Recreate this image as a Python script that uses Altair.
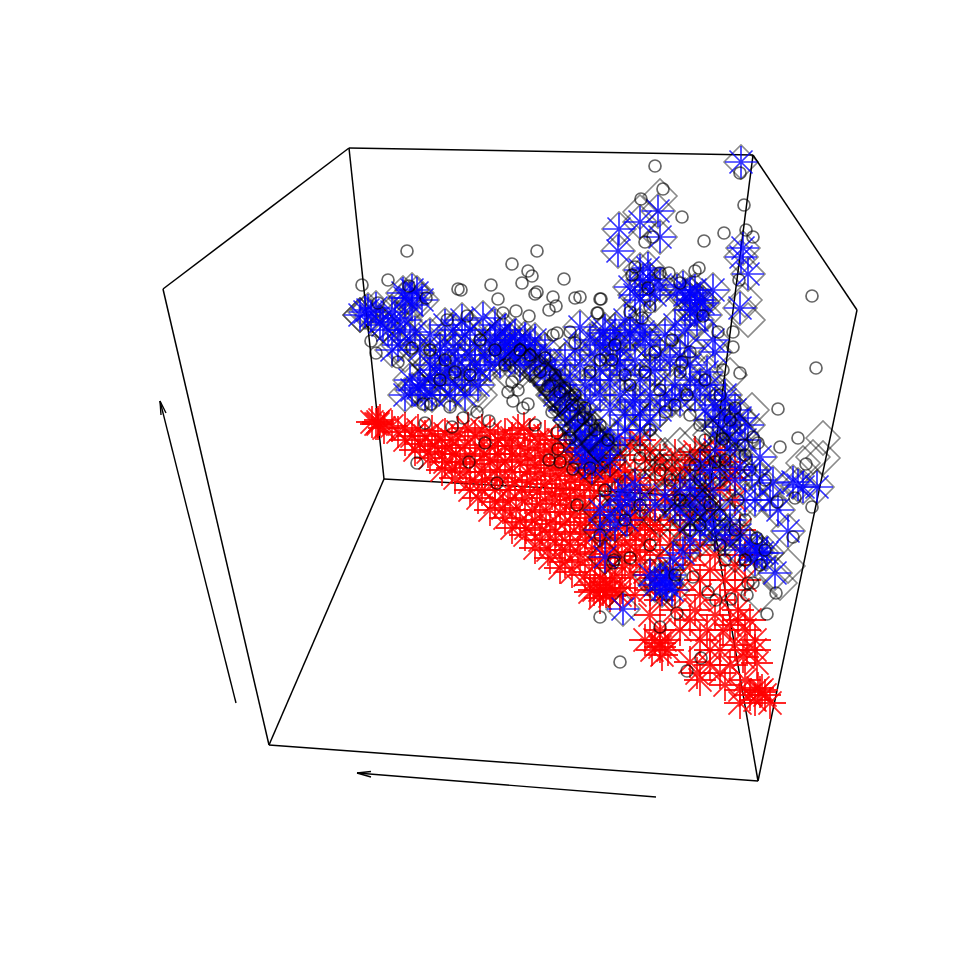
import altair as alt
import pandas as pd

# Box edges and arrows (x1, y1, x2, y2)
box_edges = [
    (163, 289, 349, 148), (349, 148, 753, 155), (753, 155, 857, 310),
    (857, 310, 758, 781), (758, 781, 269, 745), (269, 745, 163, 289),
    (349, 148, 384, 479), (384, 479, 269, 745), (384, 479, 709, 497),
    (709, 497, 753, 155), (709, 497, 758, 781),
]
arrow_edges = [
    (236, 703, 160, 401), (160, 401, 161, 415), (160, 401, 166, 413),
    (656, 797, 357, 773), (357, 773, 371, 771.5), (357, 773, 371, 777),
]

circles = [
    (407,251),(537,251),(512,264),(528,271),(532,276),(522,283),(388,280),(362,285),(458,289),(461,290),
    (491,285),(564,279),(537,292),(535,294),(553,297),(575,298),(498,299),(556,306),(549,310),(600,299),
    (597,313),(467,316),(503,313),(516,311),(529,316),(447,320),(426,298),(409,286),(378,303),(371,341),
    (376,353),(398,362),(412,348),(512,382),(508,392),(518,390),(513,401),(528,404),(523,408),(423,404),
    (431,404),(450,407),(477,412),(463,418),(489,421),(425,423),(452,427),(535,425),(557,333),(570,332),
    (553,335),(575,343),(485,443),(469,462),(417,463),(497,483),(557,433),(558,449),(549,460),(560,462),
    (573,469),(590,468),(577,505),(605,490),(600,617),(614,560),(655,166),(740,173),(663,189),(641,199),
    (744,205),(682,217),(724,233),(704,241),(746,230),(753,237),(645,242),(653,237),(699,268),(695,271),
    (635,267),(669,273),(739,280),(812,296),(601,299),(598,313),(733,332),(733,347),(703,316),(650,307),
    (630,312),(642,318),(718,332),(680,283),(660,273),(648,288),(632,275),(580,297),(816,368),(778,409),
    (798,438),(780,447),(758,443),(753,437),(743,445),(806,464),(723,439),(812,507),(793,537),(777,502),
    (745,520),(757,538),(680,372),(687,395),(725,460),(740,373),(723,370),(682,362),(640,458),(613,563),
    (630,558),(795,498),(620,662),(767,614),(776,593),(748,583),(753,583),(747,595),(731,599),(716,600),
    (708,592),(693,577),(677,613),(660,627),(701,658),(687,671),(540,372),(548,386),(560,392),(572,405),
    (583,418),(595,430),(608,440),(552,412),(570,438),(625,375),(612,360),(590,372),(655,352),(672,340),
    (690,352),(705,380),(665,412),(650,430),(700,425),(735,408),(720,395),(715,462),(700,480),(680,500),
    (660,470),(720,515),(738,500),(750,470),(765,480),(690,530),(650,545),(675,575),(725,560),(760,565),
    (530,355),(520,350),(545,358),(555,375),(565,388),(575,395),(585,408),(590,420),(600,425),(505,365),
    (495,350),(480,340),(470,375),(455,372),(440,380),(430,350),(445,360),(600,360),(615,345),(630,385),
    (645,372),(660,390),(675,405),(690,415),(705,440),(730,420),(745,455),(710,505),(695,465),(670,480),
    (700,525),(735,530),(720,545),(745,560),(765,550),(640,505),(625,520),(600,535),
]

blue_stars = [
    (365,312),(371,316),(380,322),(392,312),(403,293),(410,298),(417,293),(412,305),(400,330),(383,325),
    (398,345),(410,340),(420,350),(410,380),(425,395),(430,365),(440,350),(453,330),(445,345),(465,335),
    (458,360),(470,355),(445,375),(430,378),(455,385),(470,380),(480,370),(465,395),(448,368),(483,318),
    (490,340),(500,335),(505,345),(510,340),(515,335),(520,345),(525,350),(495,350),(485,355),(530,345),
    (535,355),(540,362),(515,358),(505,355),(475,345),(545,375),(550,385),(555,395),(560,400),(565,410),
    (570,420),(575,425),(580,435),(585,445),(590,450),(600,455),(610,445),(595,460),(585,462),(580,327),
    (565,360),(580,365),(595,355),(610,345),(605,330),(620,350),(630,335),(640,325),(635,360),(650,345),
    (655,370),(660,355),(625,375),(610,380),(600,395),(620,395),(635,400),(650,395),(640,415),(625,415),
    (610,410),(590,400),(660,410),(680,400),(619,229),(618,251),(640,222),(658,211),(660,237),(741,162),
    (743,248),(741,257),(748,274),(740,308),(713,290),(648,268),(643,280),(630,287),(650,290),(677,290),
    (690,293),(697,300),(703,303),(690,310),(697,320),(683,287),(713,340),(688,348),(715,352),(630,333),
    (603,333),(613,343),(590,340),(643,332),(707,372),(672,400),(723,417),(730,420),(740,418),(713,420),
    (720,427),(727,433),(633,402),(617,360),(680,357),(760,457),(740,467),(773,483),(798,485),(803,487),
    (817,487),(793,482),(788,531),(757,548),(762,553),(673,558),(675,507),(712,525),(703,507),(713,490),
    (618,495),(627,520),(605,557),(603,445),(597,440),(623,609),(666,585),(667,583),(683,553),(757,552),
    (775,573),(767,553),(720,510),(730,520),(700,495),(690,490),(725,540),(740,535),(715,450),(730,450),
    (700,465),(735,480),(745,500),(690,520),(640,500),(600,510),(625,490),(650,575),(660,580),
    (360,315),(368,310),(376,308),(388,330),(395,318),(405,298),(412,290),(422,300),(405,320),(415,332),
    (392,350),(430,335),(445,325),(462,320),(470,330),(435,370),(440,385),(450,395),(462,372),(475,365),
    (490,365),(478,385),(420,385),(412,390),(432,395),(440,358),(455,350),(495,325),(505,330),(515,345),
    (525,338),(535,340),(545,350),(520,365),(530,365),(500,362),(510,350),(495,340),(550,365),(555,375),
    (560,385),(565,395),(570,405),(578,412),(585,420),(592,432),(600,440),(575,440),(582,452),(592,468),
    (610,460),(618,438),(625,430),(640,430),(650,420),(665,395),(675,385),(690,380),(695,395),(700,385),
    (640,380),(650,370),(620,365),(600,370),(585,385),(570,380),(595,380),(575,350),(600,345),(615,330),
    (625,320),(645,340),(665,335),(675,325),(685,330),(670,360),(690,365),(710,385),(725,395),(735,410),
    (748,425),(725,400),(715,405),(705,410),(735,440),(745,440),(752,470),(760,480),(770,500),(778,510),
    (755,500),(700,300),(695,290),(690,300),(685,295),(695,310),(705,315),(640,300),(650,280),(640,270),
    (655,295),(660,285),(635,295),(720,470),(710,470),(695,480),(680,490),(665,495),(655,505),(680,510),
    (695,505),(705,520),(715,535),(730,530),(740,550),(750,545),(755,560),(700,530),(690,540),(620,505),
    (610,515),(630,500),(635,485),(615,525),(600,530),(670,575),(655,585),(662,590),(672,590),(665,578),
    (405,395),(418,388),
]

extra_diamonds = [
    (823,438),(813,457),(803,463),(823,458),(788,566),(780,583),(760,595),(660,196),(640,212),(745,300),
    (748,320),(540,370),(550,382),(558,392),(566,402),(574,412),(582,424),(590,436),(600,445),(610,452),
    (520,372),(470,398),(450,385),(415,350),(360,315),(405,355),(425,360),(435,390),(480,395),(730,375),
    (752,410),(665,470),(680,465),(695,475),(650,460),(710,480),(660,520),(680,515),(700,540),(735,555),
]

dark_diamonds = [
    (520,360),(530,365),(540,372),(548,382),(555,390),(562,398),(568,408),(575,415),(582,425),(590,435),
    (598,445),(605,452),(545,378),(553,395),(570,420),(578,430),(510,375),(650,445),(665,455),(680,445),
    (695,440),(710,435),(725,425),(738,430),(720,450),(735,460),(710,475),(720,490),(690,495),(705,505),
    (715,520),(725,535),(690,510),(675,520),(660,470),(640,460),
]

red_stars = [
    (378,422),(376,424),(392,426),(405,428),(418,430),(432,431),(445,434),(458,432),(475,436),(490,432),
    (505,434),(518,430),(530,434),(545,436),(558,440),(405,440),(420,444),(435,446),(450,448),(465,445),
    (480,448),(495,446),(510,446),(525,448),(540,450),(555,452),(570,455),(585,460),(430,458),(445,462),
    (460,462),(475,464),(490,460),(505,462),(520,460),(535,465),(550,468),(565,470),(580,475),(595,470),
    (610,465),(455,478),(470,482),(485,480),(500,478),(515,482),(530,480),(545,484),(560,488),(575,490),
    (590,485),(605,482),(478,498),(495,502),(510,500),(525,498),(540,504),(555,500),(570,505),(585,508),
    (600,512),(505,518),(520,522),(535,520),(550,524),(565,522),(580,525),(595,530),(610,535),(625,528),
    (525,535),(540,540),(555,540),(570,545),(585,540),(600,548),(615,552),(630,545),(645,540),(550,558),
    (565,562),(580,560),(595,565),(610,568),(625,565),(640,560),(590,592),(603,590),(610,596),(622,588),
    (635,595),(650,590),(600,598),(640,440),(650,450),(630,445),(620,455),(660,460),(675,455),(690,460),
    (705,450),(720,450),(735,470),(680,480),(700,470),(665,500),(650,510),(640,490),(690,500),(720,490),
    (735,500),(660,530),(680,530),(700,545),(725,540),(740,530),(660,555),(690,565),(710,570),(735,565),
    (745,580),(680,590),(700,595),(720,600),(738,610),(750,620),(738,620),(723,630),(707,630),(690,620),
    (675,610),(650,615),(660,630),(645,640),(660,643),(660,647),(668,650),(690,662),(697,673),(710,650),
    (720,673),(735,645),(743,657),(747,650),(757,663),(755,640),(730,665),(745,680),(760,692),(755,700),
    (740,703),(770,703),(762,690),
    (384,428),(398,432),(412,436),(425,436),(438,440),(452,440),(468,428),(482,430),(498,440),(512,438),
    (524,428),(538,440),(552,444),(566,448),(415,450),(428,452),(442,454),(456,454),(470,456),(484,454),
    (498,454),(512,454),(528,456),(544,458),(558,462),(572,464),(588,468),(602,458),(615,472),(442,470),
    (452,468),(466,472),(482,472),(497,470),(512,472),(527,472),(541,474),(556,476),(570,480),(584,482),
    (598,478),(612,476),(625,470),(635,478),(470,490),(482,490),(495,490),(508,490),(522,490),(537,492),
    (552,494),(566,496),(580,498),(594,496),(608,496),(622,500),(635,505),(490,510),(503,508),(516,510),
    (532,510),(546,512),(560,512),(574,514),(590,518),(604,522),(618,515),(632,518),(645,525),(512,528),
    (526,528),(542,530),(556,532),(570,534),(586,532),(602,538),(618,540),(635,535),(650,530),(535,548),
    (548,550),(562,550),(578,552),(592,554),(606,558),(622,556),(636,552),(650,550),(560,568),(572,572),
    (585,575),(600,578),(615,578),(630,575),(645,572),(655,578),(590,585),(605,582),(620,595),(612,588),
    (600,590),(606,592),(594,590),(645,460),(655,470),(665,480),(672,468),(685,470),(695,452),(710,462),
    (725,462),(625,480),(650,490),(675,495),(705,488),(730,478),(655,525),(670,520),(690,515),(710,510),
    (640,520),(670,545),(685,550),(715,555),(745,555),(670,570),(700,580),(725,580),(735,590),(660,600),
    (695,610),(715,615),(680,630),(700,640),(720,650),(730,625),(755,650),(745,630),(710,665),(700,680),
    (725,685),(740,690),(750,695),(765,695),(758,688),(655,640),(665,640),(652,650),(662,655),(378,424),
    (380,420),(372,422),
]

STAR = "M-1,0L1,0M0,-1L0,1M-.72,-.72L.72,.72M-.72,.72L.72,-.72"
SIZE = 944
xs = alt.Scale(domain=[8, 952], nice=False, zero=False)
ys = alt.Scale(domain=[952, 8], nice=False, zero=False)


def points(rows, **mark):
    df = pd.DataFrame(rows, columns=["x", "y"])
    return alt.Chart(df).mark_point(filled=False, **mark).encode(
        x=alt.X("x:Q", scale=xs, axis=None),
        y=alt.Y("y:Q", scale=ys, axis=None),
    )


def segments(rows, width):
    df = pd.DataFrame(rows, columns=["x", "y", "x2", "y2"])
    return alt.Chart(df).mark_rule(color="black", strokeWidth=width).encode(
        x=alt.X("x:Q", scale=xs, axis=None),
        y=alt.Y("y:Q", scale=ys, axis=None),
        x2="x2:Q",
        y2="y2:Q",
    )


chart = alt.layer(
    segments(box_edges, 1.5),
    segments(arrow_edges, 1.4),
    points(red_stars, shape=STAR, size=1024, color="#ff0000", opacity=0.85, strokeWidth=1.8),
    points(blue_stars + extra_diamonds, shape="diamond", size=1156, color="#000000", opacity=0.45, strokeWidth=1.6),
    points(blue_stars, shape=STAR, size=1024, color="#0000ff", opacity=0.8, strokeWidth=1.7),
    points(dark_diamonds, shape="diamond", size=1156, color="#000000", opacity=0.5, strokeWidth=1.6),
    points(circles, shape="circle", size=144, color="#000000", opacity=0.6, strokeWidth=1.7),
).properties(width=SIZE, height=SIZE, padding=0, background="white").configure_view(stroke=None)

chart.save("out.html", embed_options={"renderer": "svg", "actions": False})
